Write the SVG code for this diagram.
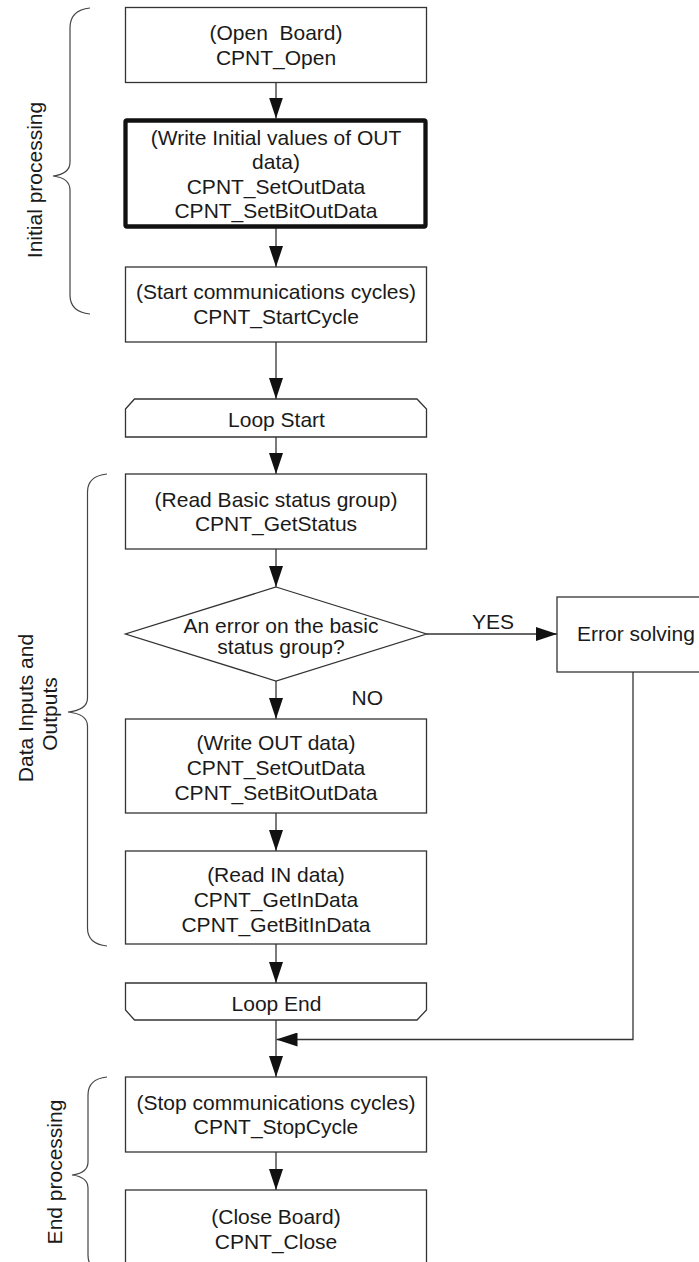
<svg xmlns="http://www.w3.org/2000/svg" width="699" height="1262" viewBox="0 0 699 1262">
<defs>
<marker id="ah" markerUnits="userSpaceOnUse" markerWidth="21" markerHeight="14" refX="21" refY="7" orient="auto" viewBox="0 0 21 14">
<path d="M0,0 L21,7 L0,14 Z" fill="#111"/>
</marker>
</defs>
<style>
text{font-family:"Liberation Sans",Arial,sans-serif;font-size:21px;fill:#1a1a1a}
.c{text-anchor:middle}
.box{fill:#fff;stroke:#333;stroke-width:1.3}
.thick{fill:#fff;stroke:#111;stroke-width:4.3}
.con{fill:none;stroke:#333;stroke-width:1.3}
.arr{marker-end:url(#ah)}
.brace{fill:none;stroke:#444;stroke-width:1.2}
</style>
<rect width="699" height="1262" fill="#fff"/>

<g id="connectors">
<line class="con arr" x1="276" y1="82" x2="276" y2="118.5"/>
<line class="con arr" x1="276" y1="228" x2="276" y2="267"/>
<line class="con arr" x1="276" y1="342" x2="276" y2="399"/>
<line class="con arr" x1="276" y1="437" x2="276" y2="474"/>
<line class="con arr" x1="276" y1="549" x2="276" y2="587"/>
<line class="con arr" x1="276" y1="681" x2="276" y2="719"/>
<line class="con arr" x1="426.5" y1="634" x2="557" y2="634"/>
<line class="con arr" x1="276" y1="813" x2="276" y2="851"/>
<line class="con arr" x1="276" y1="944" x2="276" y2="983"/>
<line class="con arr" x1="276" y1="1020" x2="276" y2="1077"/>
<polyline class="con arr" points="633,672 633,1039.5 276.5,1039.5"/>
<line class="con arr" x1="276" y1="1152" x2="276" y2="1190"/>
</g>

<g id="brace-initial">
<path class="brace" d="M90,8 Q70,10 70,28 L70,162 Q70,174 53,176 Q70,178 70,190 L70,295 Q70,312 90,314"/>
<text transform="translate(41.5,180) rotate(-90)" class="c">Initial processing</text>
</g>

<g id="brace-data">
<path class="brace" d="M107,474 Q87.5,476 87.5,492 L87.5,698 Q87.5,710 68,712 Q87.5,714 87.5,726 L87.5,928 Q87.5,944 107,946"/>
<text transform="rotate(-90 0 0)" class="c" x="-708" y="33">Data Inputs and</text>
<text transform="rotate(-90 0 0)" class="c" x="-714" y="57">Outputs</text>
</g>

<g id="brace-end">
<path class="brace" d="M107,1077 Q88,1079 88,1095 L88,1162 Q88,1173 72,1175 Q88,1177 88,1188 L88,1255 Q88,1271 107,1273"/>
<text transform="translate(61.5,1172) rotate(-90)" class="c">End processing</text>
</g>

<g id="open">
<rect class="box" x="125.5" y="7.5" width="301" height="75"/>
<text class="c" x="276" y="40" xml:space="preserve">(Open  Board)</text>
<text class="c" x="276" y="64.5">CPNT_Open</text>
</g>

<g id="init-out">
<rect class="thick" x="125.5" y="120.5" width="300" height="106" rx="1.5"/>
<text class="c" x="276" y="144.5">(Write Initial values of OUT</text>
<text class="c" x="276" y="169">data)</text>
<text class="c" x="276" y="193.5">CPNT_SetOutData</text>
<text class="c" x="276" y="218">CPNT_SetBitOutData</text>
</g>

<g id="start-cycle">
<rect class="box" x="125.5" y="267" width="301" height="75"/>
<text class="c" x="276" y="299">(Start communications cycles)</text>
<text class="c" x="276" y="323.5">CPNT_StartCycle</text>
</g>

<g id="loop-start">
<path class="box" d="M125.5,409 L134.5,399 L417,399 L426.5,409 L426.5,437 L125.5,437 Z"/>
<text class="c" x="276.5" y="427">Loop Start</text>
</g>

<g id="get-status">
<rect class="box" x="125.5" y="474" width="301" height="75"/>
<text class="c" x="276" y="506.5">(Read Basic status group)</text>
<text class="c" x="276" y="531">CPNT_GetStatus</text>
</g>

<g id="decision">
<polygon class="box" points="276,587 426.5,634 276,681 125.5,634"/>
<text class="c" x="281" y="632.5">An error on the basic</text>
<text class="c" x="281" y="654">status group?</text>
</g>

<text class="c" x="493" y="629">YES</text>
<text x="351.5" y="704.5">NO</text>

<g id="error-solving">
<rect class="box" x="557" y="597" width="160" height="75"/>
<text x="577" y="641">Error solving</text>
</g>

<g id="write-out">
<rect class="box" x="125.5" y="719" width="301" height="94"/>
<text class="c" x="276" y="750">(Write OUT data)</text>
<text class="c" x="276" y="775">CPNT_SetOutData</text>
<text class="c" x="276" y="799.5">CPNT_SetBitOutData</text>
</g>

<g id="read-in">
<rect class="box" x="125.5" y="851" width="301" height="93"/>
<text class="c" x="276" y="882">(Read IN data)</text>
<text class="c" x="276" y="907">CPNT_GetInData</text>
<text class="c" x="276" y="931.5">CPNT_GetBitInData</text>
</g>

<g id="loop-end">
<path class="box" d="M125.5,983 L426.5,983 L426.5,1010 L417,1020 L134.5,1020 L125.5,1010 Z"/>
<text class="c" x="276.5" y="1010.5">Loop End</text>
</g>

<g id="stop-cycle">
<rect class="box" x="125.5" y="1077" width="301" height="75"/>
<text class="c" x="276" y="1109.5">(Stop communications cycles)</text>
<text class="c" x="276" y="1134">CPNT_StopCycle</text>
</g>

<g id="close">
<rect class="box" x="125.5" y="1190" width="301" height="90"/>
<text class="c" x="276" y="1224">(Close Board)</text>
<text class="c" x="276" y="1248.5">CPNT_Close</text>
</g>
</svg>
